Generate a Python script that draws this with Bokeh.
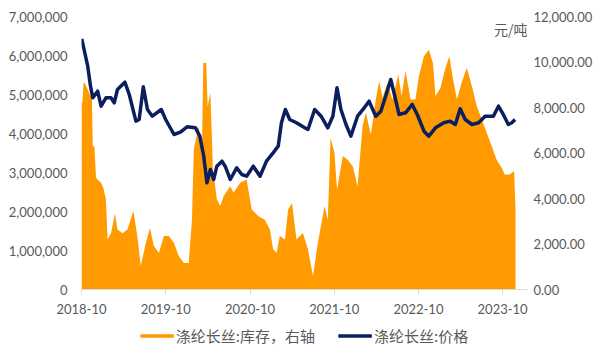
import pandas as pd
from bokeh.plotting import figure
from bokeh.layouts import column
from bokeh.models import (Range1d, LinearAxis, FixedTicker, NumeralTickFormatter,
                          DatetimeTickFormatter, Legend, LegendItem, Label, ColumnDataSource)
from bokeh.embed import file_html
from bokeh.resources import INLINE

# ---- data ----
inv_dates = ["2018-10-01", "2018-10-05", "2018-10-10", "2018-10-14", "2018-10-28", "2018-11-09",
             "2018-11-15", "2018-11-19", "2018-11-26", "2018-12-03", "2018-12-25", "2019-01-04",
             "2019-01-15", "2019-01-22", "2019-02-06", "2019-02-23", "2019-03-06", "2019-03-28",
             "2019-04-18", "2019-05-14", "2019-05-31", "2019-06-15", "2019-07-07", "2019-07-25",
             "2019-08-11", "2019-09-02", "2019-09-23", "2019-10-15", "2019-11-06", "2019-11-27",
             "2019-12-19", "2020-01-09", "2020-01-23", "2020-01-31", "2020-02-21", "2020-03-06",
             "2020-03-12", "2020-03-25", "2020-03-31", "2020-04-12", "2020-04-23", "2020-05-10",
             "2020-05-25", "2020-06-08", "2020-07-07", "2020-07-21", "2020-08-19", "2020-09-16",
             "2020-10-08", "2020-11-06", "2020-12-04", "2020-12-26", "2021-01-09", "2021-01-24",
             "2021-02-07", "2021-03-01", "2021-03-15", "2021-04-01", "2021-04-20", "2021-05-18",
             "2021-06-09", "2021-07-01", "2021-07-22", "2021-08-20", "2021-09-03", "2021-09-15",
             "2021-10-02", "2021-10-13", "2021-11-07", "2021-11-28", "2021-12-20", "2022-01-10",
             "2022-02-01", "2022-02-15", "2022-03-09", "2022-03-30", "2022-04-14", "2022-04-28",
             "2022-05-20", "2022-06-10", "2022-07-06", "2022-07-20", "2022-08-06", "2022-08-28",
             "2022-09-18", "2022-10-03", "2022-10-25", "2022-11-15", "2022-12-03", "2022-12-14",
             "2023-01-05", "2023-01-24", "2023-02-12", "2023-02-26", "2023-03-17", "2023-04-08",
             "2023-04-29", "2023-05-21", "2023-06-11", "2023-07-03", "2023-07-24", "2023-08-15",
             "2023-09-05", "2023-09-27", "2023-10-10", "2023-11-01", "2023-11-20", "2023-11-26"]
inv_values = [4790000, 4790000, 5300000, 5300000, 5130000, 4960000,
              4960000, 3670000, 3670000, 2860000, 2740000, 2600000,
              2310000, 1280000, 1450000, 1950000, 1540000, 1440000,
              1540000, 2010000, 1370000, 600000, 1200000, 1580000,
              1110000, 940000, 1370000, 1370000, 1200000, 850000,
              680000, 680000, 1790000, 3590000, 4190000, 3420000,
              5810000, 5810000, 4700000, 5040000, 3080000, 2310000,
              2140000, 2390000, 2650000, 2480000, 2740000, 2820000,
              2050000, 1880000, 1790000, 1540000, 1030000, 940000,
              1370000, 1280000, 2050000, 2220000, 1280000, 1450000,
              1030000, 340000, 1200000, 2140000, 1790000, 3890000,
              3500000, 2560000, 3420000, 3330000, 3160000, 2650000,
              4190000, 4530000, 3970000, 4870000, 5340000, 4920000,
              5300000, 4870000, 5510000, 4960000, 5600000, 4870000,
              4870000, 5470000, 5980000, 6150000, 5810000, 4960000,
              5170000, 5640000, 5980000, 5470000, 4870000, 5340000,
              5680000, 5210000, 4700000, 4360000, 4020000, 3670000,
              3330000, 3120000, 2950000, 2950000, 3030000, 2050000]

price_dates = ["2018-10-02", "2018-10-28", "2018-11-09", "2018-11-19", "2018-12-10", "2018-12-25",
               "2019-01-15", "2019-02-06", "2019-02-20", "2019-03-06", "2019-04-07", "2019-04-26",
               "2019-05-25", "2019-06-08", "2019-06-26", "2019-07-14", "2019-08-04", "2019-09-12",
               "2019-10-01", "2019-11-06", "2019-12-04", "2020-01-02", "2020-02-07", "2020-02-26",
               "2020-03-14", "2020-03-28", "2020-04-12", "2020-04-26", "2020-05-10", "2020-06-01",
               "2020-06-15", "2020-07-07", "2020-08-04", "2020-08-26", "2020-09-16", "2020-10-15",
               "2020-11-13", "2020-12-11", "2021-01-09", "2021-01-31", "2021-02-14", "2021-03-03",
               "2021-03-22", "2021-04-20", "2021-05-26", "2021-06-09", "2021-07-08", "2021-08-05",
               "2021-09-03", "2021-09-25", "2021-10-13", "2021-10-30", "2021-11-21", "2021-12-12",
               "2022-01-10", "2022-02-08", "2022-03-01", "2022-03-30", "2022-04-21", "2022-05-12",
               "2022-06-03", "2022-06-17", "2022-07-09", "2022-08-06", "2022-09-04", "2022-09-26",
               "2022-10-25", "2022-11-15", "2022-12-14", "2023-01-19", "2023-02-16", "2023-03-10",
               "2023-03-31", "2023-04-22", "2023-05-21", "2023-06-19", "2023-07-17", "2023-08-22",
               "2023-09-13", "2023-10-04", "2023-10-26", "2023-11-10", "2023-11-24"]
price_values = [11020, 9816, 8937, 8427, 8717, 8058,
                8427, 8427, 8207, 8792, 9113, 8572,
                7399, 7470, 8911, 7913, 7618, 7913,
                7473, 6814, 6915, 7152, 7108, 6740,
                5860, 4690, 5275, 4836, 5420, 5640,
                5420, 4836, 5350, 5055, 4980, 5420,
                4980, 5640, 6009, 6300, 7328, 7913,
                7473, 7328, 7108, 7034, 7913, 7618,
                7108, 7618, 8867, 7913, 7253, 6740,
                7618, 7987, 8278, 7618, 7838, 8497,
                9232, 8647, 7693, 7767, 8133, 7693,
                6959, 6740, 7108, 7328, 7399, 7253,
                7943, 7473, 7253, 7328, 7618, 7618,
                8058, 7693, 7253, 7330, 7473]

tick_dates = ["2018-10-01", "2019-10-01", "2020-10-01", "2021-10-01", "2022-10-01", "2023-10-01"]
left_ticks = [0, 1000000, 2000000, 3000000, 4000000, 5000000, 6000000, 7000000]
right_ticks = [0, 2000, 4000, 6000, 8000, 10000, 12000]
legend_labels = ["涤纶长丝:库存，右轴", "涤纶长丝:价格"]
unit_label = "元/吨"

ORANGE = "#FF9B00"
NAVY = "#0B1F5E"
GRAY = "#595959"
FONT = "Lato"
CJK = "Noto Sans CJK SC"

inv_src = ColumnDataSource(dict(x=pd.to_datetime(inv_dates), y=inv_values))
price_src = ColumnDataSource(dict(x=pd.to_datetime(price_dates), y=price_values))

x_start = pd.Timestamp("2018-10-01")
x_end = pd.Timestamp("2024-01-17")

p = figure(width=595, height=324, x_axis_type="datetime",
           x_range=Range1d(x_start, x_end), y_range=Range1d(0, 7000000),
           output_backend="svg", toolbar_location=None,
           min_border_left=81, min_border_right=65, min_border_top=16, min_border_bottom=35)
p.extra_y_ranges = {"price": Range1d(0, 12000)}
p.outline_line_color = None
p.grid.visible = False
p.background_fill_color = "white"

# left axis
ya = p.yaxis[0]
ya.ticker = FixedTicker(ticks=left_ticks)
ya.formatter = NumeralTickFormatter(format="0,0")
ya.axis_line_color = None
ya.major_tick_line_color = None
ya.major_tick_out = 0
ya.major_tick_in = 0
ya.minor_tick_line_color = None
ya.major_label_text_font = FONT
ya.major_label_text_font_size = "13px"
ya.major_label_text_color = GRAY
ya.major_label_standoff = 14

# right axis
ra = LinearAxis(y_range_name="price", ticker=FixedTicker(ticks=right_ticks),
                formatter=NumeralTickFormatter(format="0,0.00"))
ra.axis_line_color = None
ra.major_tick_line_color = None
ra.major_tick_out = 0
ra.major_tick_in = 0
ra.minor_tick_line_color = None
ra.major_label_text_font = FONT
ra.major_label_text_font_size = "13px"
ra.major_label_text_color = GRAY
ra.major_label_standoff = 6
p.add_layout(ra, "right")

# x axis
xa = p.xaxis[0]
xa.ticker = FixedTicker(ticks=[pd.Timestamp(d).value / 1e6 for d in tick_dates])
xa.formatter = DatetimeTickFormatter(days="%Y-%m", months="%Y-%m", years="%Y-%m")
xa.axis_line_color = "#D9D9D9"
xa.major_tick_line_color = "#D9D9D9"
xa.major_tick_out = 5
xa.major_tick_in = 0
xa.minor_tick_line_color = None
xa.major_label_text_font = FONT
xa.major_label_text_font_size = "13px"
xa.major_label_text_color = GRAY
xa.major_label_standoff = 9

area = p.varea(x="x", y1=0, y2="y", source=inv_src, fill_color=ORANGE)
line = p.line(x="x", y="y", source=price_src, y_range_name="price",
              line_color=NAVY, line_width=3.5, line_join="round")

p.add_layout(Label(x=x_end.value / 1e6, y=11450, y_range_name="price", text=unit_label,
                   x_offset=0, text_align="right", text_baseline="middle",
                   text_font=CJK, text_font_size="14px", text_color=GRAY))

# legend strip below the chart (its lines use the same data, far outside its own ranges)
lg = figure(width=595, height=22, x_range=Range1d(0, 1), y_range=Range1d(0, 1),
            output_backend="svg", toolbar_location=None,
            x_axis_location=None, y_axis_location=None, min_border=0)
lg.outline_line_color = None
lg.grid.visible = False
d1 = lg.line(x="x", y="y", source=inv_src, line_color=ORANGE, line_width=3.5)
d2 = lg.line(x="x", y="y", source=price_src, line_color=NAVY, line_width=3.5)
legend = Legend(items=[LegendItem(label=legend_labels[0], renderers=[d1]),
                       LegendItem(label=legend_labels[1], renderers=[d2])],
                orientation="horizontal", location="center",
                label_text_font=CJK, label_text_font_size="15px", label_text_color=GRAY,
                glyph_width=34, label_standoff=2, spacing=23, border_line_color=None,
                background_fill_alpha=0, padding=0, margin=0)
lg.add_layout(legend)

open("out.html", "w").write(file_html(column(p, lg, spacing=0), INLINE))
